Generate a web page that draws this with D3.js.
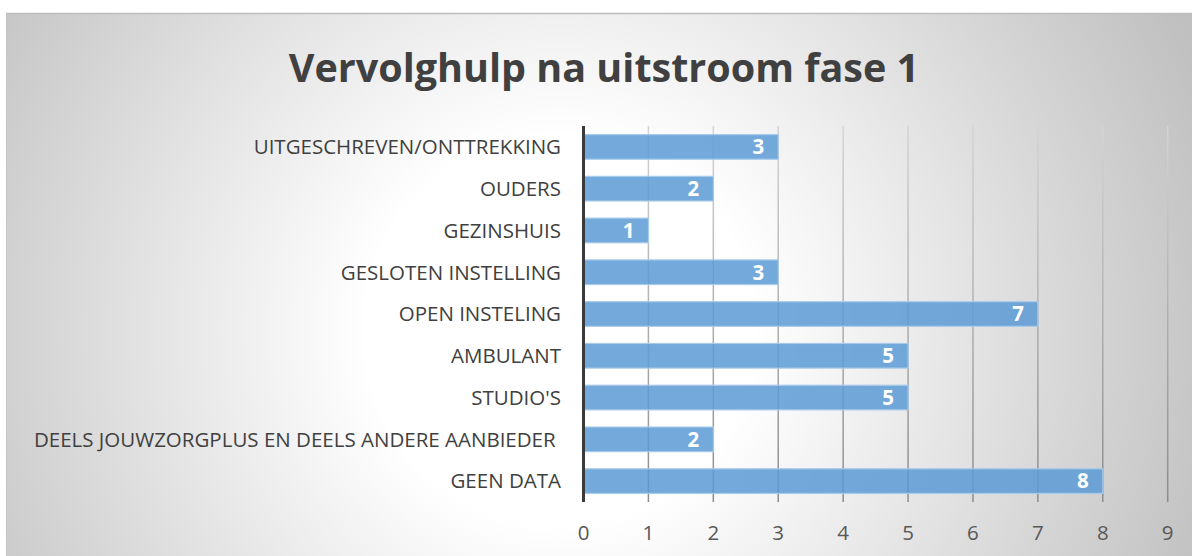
<!DOCTYPE html>
<html>
<head>
<meta charset="utf-8">
<script src="https://cdn.jsdelivr.net/npm/d3@7"></script>
<style>
  html, body { margin: 0; padding: 0; background: #fff; }
  svg { display: block; }
</style>
</head>
<body>
<div id="chart"></div>
<script>
// ---------- data ----------
var categories = ["UITGESCHREVEN/ONTTREKKING", "OUDERS", "GEZINSHUIS", "GESLOTEN INSTELLING",
                  "OPEN INSTELING", "AMBULANT", "STUDIO'S",
                  "DEELS JOUWZORGPLUS EN DEELS ANDERE AANBIEDER ", "GEEN DATA"];
var values = [3, 2, 1, 3, 7, 5, 5, 2, 8];
var xTicks = [0, 1, 2, 3, 4, 5, 6, 7, 8, 9];
var title = "Vervolghulp na uitstroom fase 1";

var width = 1192, height = 556;

var svg = d3.select("#chart").append("svg")
    .attr("width", width)
    .attr("height", height);

var defs = svg.append("defs");

// background gradient, white in the middle, gray at the edges
var bg = defs.append("radialGradient")
    .attr("id", "bg")
    .attr("gradientUnits", "userSpaceOnUse")
    .attr("cx", 560).attr("cy", 330)
    .attr("r", 690);
bg.append("stop").attr("offset", "0%").attr("stop-color", "#ffffff");
bg.append("stop").attr("offset", "28%").attr("stop-color", "#ffffff");
bg.append("stop").attr("offset", "100%").attr("stop-color", "#c0c0c0");

var plot = {left: 583.5, right: 1167.7, top: 126, bottom: 502};

// gridline gradient: lighter at top, darker at the bottom
var gg = defs.append("linearGradient")
    .attr("id", "gridgrad")
    .attr("gradientUnits", "userSpaceOnUse")
    .attr("x1", 0).attr("y1", plot.top).attr("x2", 0).attr("y2", plot.bottom);
gg.append("stop").attr("offset", "0%").attr("stop-color", "#d4d4d4");
gg.append("stop").attr("offset", "100%").attr("stop-color", "#8c8c8c");

// ---------- chart area ----------
svg.append("rect")
    .attr("x", 6).attr("y", 13)
    .attr("width", width - 6).attr("height", height - 13)
    .attr("fill", "url(#bg)");

svg.append("line")
    .attr("x1", 6).attr("x2", width)
    .attr("y1", 13.5).attr("y2", 13.5)
    .attr("stroke", "#bdbdbd")
    .attr("stroke-width", 1.5);

svg.append("line")
    .attr("x1", 6.5).attr("x2", 6.5)
    .attr("y1", 13).attr("y2", height)
    .attr("stroke", "#c4c4c4")
    .attr("stroke-width", 1);

// ---------- title ----------
svg.append("text")
    .attr("x", 604)
    .attr("y", 82)
    .attr("text-anchor", "middle")
    .style("font-family", "'Open Sans', 'Noto Sans', sans-serif")
    .style("font-weight", "bold")
    .style("font-size", "39.5px")
    .style("fill", "#404040")
    .text(title);

// ---------- scales ----------
var x_scale = d3.scaleLinear()
    .domain([0, 9])
    .range([plot.left, plot.right]);

var y_scale = d3.scaleBand()
    .domain(categories)
    .range([plot.top, plot.bottom])
    .paddingInner(0.41)
    .paddingOuter(0.205);

// ---------- gridlines ----------
svg.selectAll(".grid").data(xTicks.slice(1)).enter().append("line")
    .attr("class", "grid")
    .attr("x1", function(d) { return x_scale(d); })
    .attr("x2", function(d) { return x_scale(d); })
    .attr("y1", plot.top)
    .attr("y2", plot.bottom)
    .attr("stroke", "url(#gridgrad)")
    .attr("stroke-width", 1.5);

// ---------- bars ----------
svg.selectAll(".bar").data(values).enter().append("rect")
    .attr("class", "bar")
    .attr("x", x_scale(0))
    .attr("y", function(d, i) { return y_scale(categories[i]); })
    .attr("width", function(d) { return x_scale(d) - x_scale(0); })
    .attr("height", y_scale.bandwidth())
    .attr("fill", "#5b9bd5")
    .attr("fill-opacity", 0.85)
    .attr("stroke", "#a9cbea")
    .attr("stroke-width", 1.2);

// value labels
svg.selectAll(".vlabel").data(values).enter().append("text")
    .attr("class", "vlabel")
    .attr("x", function(d) { return x_scale(d) - 14; })
    .attr("y", function(d, i) { return y_scale(categories[i]) + y_scale.bandwidth() / 2; })
    .attr("dy", "0.36em")
    .attr("text-anchor", "end")
    .style("font-family", "'Open Sans', 'Noto Sans', sans-serif")
    .style("font-weight", "bold")
    .style("font-size", "20.5px")
    .style("fill", "#ffffff")
    .text(function(d) { return d; });

// ---------- y axis ----------
svg.append("line")
    .attr("x1", plot.left).attr("x2", plot.left)
    .attr("y1", plot.top).attr("y2", plot.bottom)
    .attr("stroke", "#3a3a3a")
    .attr("stroke-width", 3);

svg.selectAll(".ylabel").data(categories).enter().append("text")
    .attr("class", "ylabel")
    .attr("x", 561)
    .attr("y", function(d) { return y_scale(d) + y_scale.bandwidth() / 2; })
    .attr("dy", "0.36em")
    .attr("text-anchor", "end")
    .attr("xml:space", "preserve")
    .style("white-space", "pre")
    .style("font-family", "'Open Sans', 'Noto Sans', sans-serif")
    .style("font-size", "20.5px")
    .style("fill", "#404040")
    .text(function(d) { return d; });

// ---------- x tick labels ----------
svg.selectAll(".xlabel").data(xTicks).enter().append("text")
    .attr("class", "xlabel")
    .attr("x", function(d) { return x_scale(d); })
    .attr("y", 533)
    .attr("dy", "0.36em")
    .attr("text-anchor", "middle")
    .style("font-family", "'Open Sans', 'Noto Sans', sans-serif")
    .style("font-size", "20.5px")
    .style("fill", "#595959")
    .text(function(d) { return d; });
</script>
</body>
</html>
